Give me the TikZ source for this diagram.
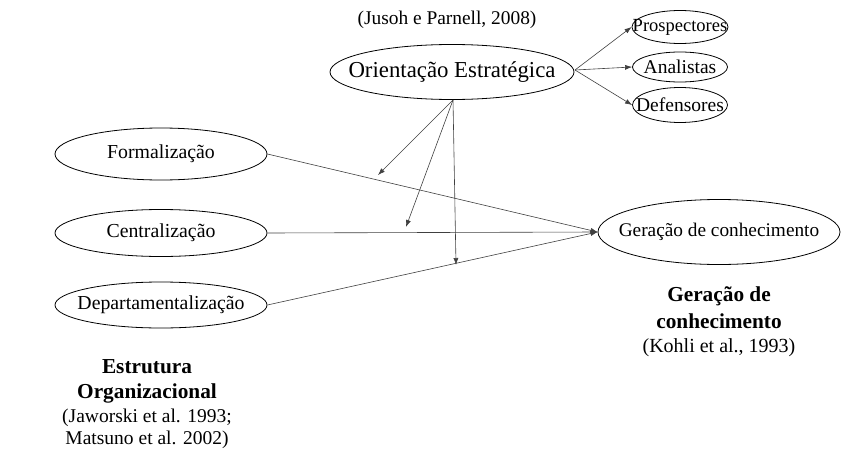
\documentclass[tikz,border=0pt]{standalone}
\usepackage{fontspec}
\setmainfont{Liberation Serif}
\usetikzlibrary{shapes.geometric,arrows.meta}
\tikzset{
  ell/.style 2 args={draw, ellipse, line width=0.8pt, inner sep=0pt, minimum width=#1, minimum height=#2},
  con/.style={draw=black!75, line width=0.6pt, -{Latex[length=7pt,width=5pt]}},
}
\begin{document}
\begin{tikzpicture}[x=1pt,y=-1pt]
\useasboundingbox (0,0) rectangle (859,455);
% ellipses (fixed size, text as centred label)
\node[ell={244pt}{55pt}, label={[font=\fontsize{22.8}{26}\selectfont]center:Orientação Estratégica}] (oe) at (452,72) {};
\node[ell={96pt}{33pt}, label={[font=\fontsize{18.5}{20}\selectfont]center:Prospectores}] (pr) at (680,27) {};
\node[ell={95pt}{30pt}, label={[font=\fontsize{19.5}{21}\selectfont]center:Analistas}] (an) at (680,67) {};
\node[ell={95pt}{35pt}, label={[font=\fontsize{19.5}{21}\selectfont]center:Defensores}] (de) at (680,105) {};
\node[ell={212pt}{52pt}, label={[font=\fontsize{19.8}{22}\selectfont]center:Formalização}] (fo) at (161,154) {};
\node[ell={212pt}{47pt}, label={[font=\fontsize{19.8}{22}\selectfont]center:Centralização}] (ce) at (161,233) {};
\node[ell={212pt}{46pt}, label={[font=\fontsize{19.8}{22}\selectfont]center:Departamentalização}] (dp) at (161,305) {};
\node[ell={242pt}{65pt}, label={[font=\fontsize{19.3}{22}\selectfont]center:Geração de conhecimento}] (gc) at (719,232) {};
% texts
\node[font=\fontsize{19.4}{22}\selectfont] (jp) at (447,20) {(Jusoh e Parnell, 2008)};
\node[align=center, font=\fontsize{21.3}{27}\selectfont\bfseries] (gct) at (719,308) {Geração de\\conhecimento};
\node[font=\fontsize{20}{22}\selectfont] (kc) at (719,348) {(Kohli et al., 1993)};
\node[align=center, font=\fontsize{21.3}{25}\selectfont\bfseries] (eot) at (147,381) {Estrutura\\Organizacional};
\node[align=center, font=\fontsize{19.5}{22}\selectfont] (jm) at (147,429) {(Jaworski et al. 1993;\\Matsuno et al. 2002)};
% free ends on the lines
\coordinate (oeb) at (453,100);
\coordinate (oer) at (575,70);
\coordinate (t1) at (378,175);
\coordinate (t2) at (406,227);
\coordinate (t3) at (456,265);
% connectors
\draw[con] (fo.east) -- (gc.west);
\draw[con] (ce.east) -- (gc.west);
\draw[con] (dp.east) -- (gc.west);
\draw[con] (oeb) -- (t1);
\draw[con] (oeb) -- (t2);
\draw[con] (oeb) -- (t3);
\draw[con] (oer) -- (pr.west);
\draw[con] (oer) -- (an.west);
\draw[con] (oer) -- (de.west);
\end{tikzpicture}
\end{document}
